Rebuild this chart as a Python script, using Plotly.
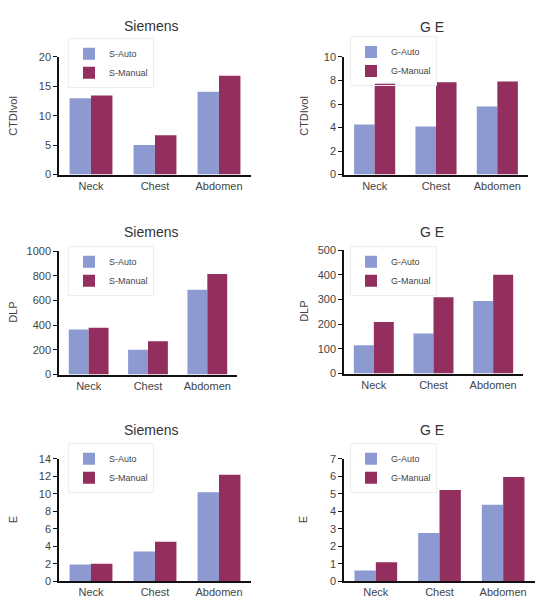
import plotly.graph_objects as go

categories = ["Neck", "Chest", "Abdomen"]

s_ctdi_auto = [13.0, 5.05, 14.1]
s_ctdi_manual = [13.45, 6.7, 16.8]
g_ctdi_auto = [4.25, 4.1, 5.78]
g_ctdi_manual = [7.72, 7.86, 7.92]

s_dlp_auto = [366, 202, 687]
s_dlp_manual = [379, 271, 814]
g_dlp_auto = [115, 162, 294]
g_dlp_manual = [209, 309, 400]

s_e_auto = [1.94, 3.42, 10.2]
s_e_manual = [2.01, 4.54, 12.2]
g_e_auto = [0.62, 2.77, 4.38]
g_e_manual = [1.10, 5.22, 5.97]

panel_titles = ["Siemens", "G E", "Siemens", "G E", "Siemens", "G E"]
y_titles = ["CTDIvol", "CTDIvol", "DLP", "DLP", "E", "E"]
auto_names = ["S-Auto", "G-Auto", "S-Auto", "G-Auto", "S-Auto", "G-Auto"]
manual_names = ["S-Manual", "G-Manual", "S-Manual", "G-Manual", "S-Manual", "G-Manual"]
y_ranges = [[0, 20], [0, 10], [0, 1000], [0, 500], [0, 14], [0, 7]]
y_dticks = [5, 2, 200, 100, 2, 1]

auto_series = [s_ctdi_auto, g_ctdi_auto, s_dlp_auto, g_dlp_auto, s_e_auto, g_e_auto]
manual_series = [s_ctdi_manual, g_ctdi_manual, s_dlp_manual, g_dlp_manual, s_e_manual, g_e_manual]

W, H = 546, 610
AUTO_C = "#8D9AD2"
MAN_C = "#922F5E"
FONT = "Liberation Sans, Arial, sans-serif"

# plot areas in pixels: (x0, x1, y_top, y_bottom)
boxes = [
    (59, 251, 52, 172),
    (344, 528, 52, 172),
    (59, 237, 250, 376),
    (344, 523, 249, 375),
    (59, 251, 462, 587),
    (344, 535, 462, 587),
]
title_pos = [(151, 20), (432, 21), (151, 231), (432, 231), (151, 433), (432, 433)]
ytitle_x = [13, 304, 13, 304, 13, 303]
legend_pos = [(68, 33), (350, 31), (68, 245), (350, 245), (68, 446), (350, 446)]

fig = go.Figure()
layout = dict(
    width=W, height=H, margin=dict(l=0, r=0, t=0, b=0),
    paper_bgcolor="white", plot_bgcolor="white",
    font=dict(family=FONT, color="#444"),
    barmode="group", bargap=0.33, bargroupgap=0,
    annotations=[],
)

for i in range(6):
    n = "" if i == 0 else str(i + 1)
    xa, ya = "x" + n, "y" + n
    lg = "legend" + n
    fig.add_trace(go.Bar(x=categories, y=auto_series[i], name=auto_names[i],
                         marker=dict(color=AUTO_C, line=dict(width=0)),
                         xaxis=xa, yaxis=ya, legend=lg))
    fig.add_trace(go.Bar(x=categories, y=manual_series[i], name=manual_names[i],
                         marker=dict(color=MAN_C, line=dict(width=0)),
                         xaxis=xa, yaxis=ya, legend=lg))
    x0, x1, yt, yb = boxes[i]
    layout["xaxis" + n] = dict(
        domain=[x0 / W, x1 / W], anchor=ya, showline=True, linecolor="#111",
        linewidth=1.5, ticks="", showgrid=False, zeroline=False,
        tickfont=dict(size=11, color="#444"), fixedrange=True,
    )
    layout["yaxis" + n] = dict(
        domain=[1 - yb / H, 1 - yt / H], anchor=xa, range=y_ranges[i],
        dtick=y_dticks[i], showline=True, linecolor="#111", linewidth=1.5,
        ticks="outside", ticklen=4, tickcolor="#111", showgrid=False,
        zeroline=False, tickfont=dict(size=11, color="#444"),
    )
    lx, ly = legend_pos[i]
    layout[lg] = dict(
        x=lx / W, y=1 - ly / H, xanchor="left", yanchor="top",
        bgcolor="rgba(255,255,255,0)", bordercolor="#eeeeee", borderwidth=1,
        font=dict(size=9, color="#444"), tracegroupgap=0,
        itemwidth=30,
    )
    tx, ty = title_pos[i]
    layout["annotations"].append(dict(
        x=tx / W, y=1 - ty / H, xref="paper", yref="paper", text=panel_titles[i],
        showarrow=False, font=dict(size=14, color="#333"),
        xanchor="center", yanchor="middle",
    ))
    layout["annotations"].append(dict(
        x=ytitle_x[i] / W, y=1 - (yt + yb) / 2 / H, xref="paper", yref="paper",
        text=y_titles[i], textangle=-90, showarrow=False,
        font=dict(size=11, color="#444"), xanchor="center", yanchor="middle",
    ))

fig.update_layout(**layout)
fig.write_html("out.html")
